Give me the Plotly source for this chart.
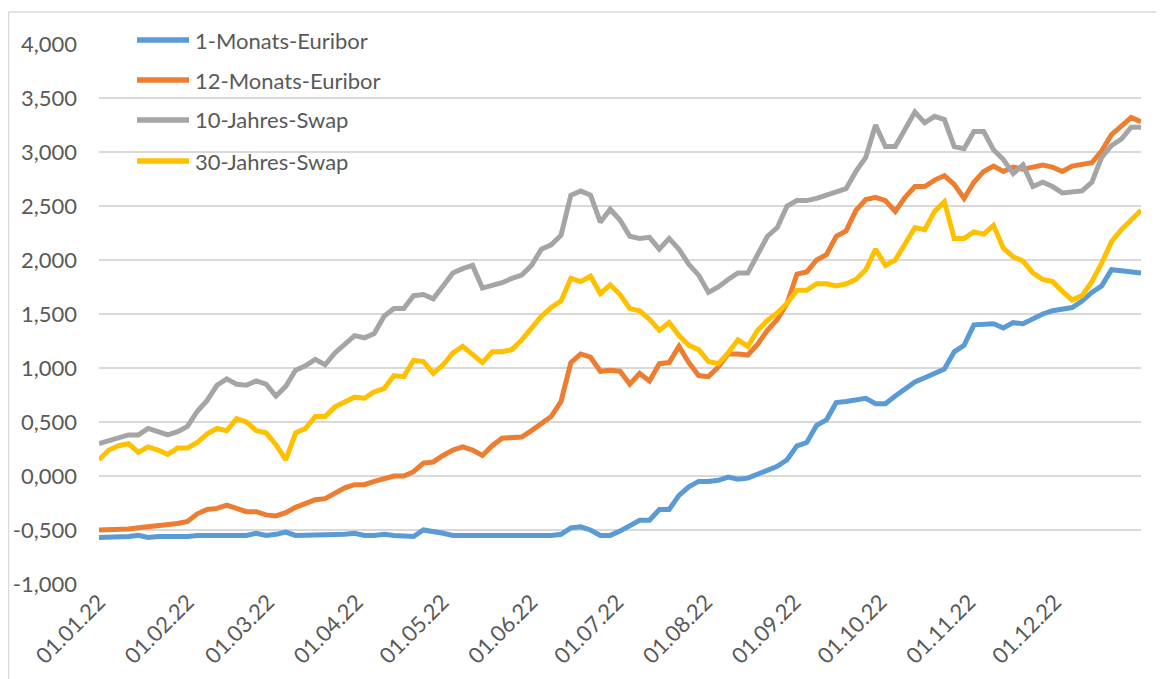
import pandas as pd
import plotly.graph_objects as go

# ---- data (percent), sampled evenly over 2022 ----
sample_dates = pd.date_range("2022-01-01", "2022-12-31", periods=107)

euribor_1m = [
    -0.57, -0.57, -0.56, -0.56, -0.55, -0.57, -0.56, -0.56, -0.57, -0.56,
    -0.55, -0.55, -0.55, -0.56, -0.55, -0.55, -0.53, -0.55, -0.54, -0.52,
    -0.55, -0.55, -0.54, -0.55, -0.55, -0.54, -0.53, -0.55, -0.55, -0.54,
    -0.55, -0.55, -0.56, -0.50, -0.51, -0.53, -0.55, -0.55, -0.56, -0.55,
    -0.55, -0.55, -0.55, -0.55, -0.55, -0.55, -0.55, -0.54, -0.48, -0.47,
    -0.50, -0.55, -0.55, -0.51, -0.46, -0.41, -0.41, -0.31, -0.31, -0.18,
    -0.10, -0.05, -0.05, -0.04, -0.01, -0.03, -0.02, 0.02, 0.06, 0.09,
    0.15, 0.28, 0.31, 0.47, 0.52, 0.68, 0.69, 0.71, 0.72, 0.67,
    0.67, 0.74, 0.80, 0.87, 0.91, 0.95, 0.99, 1.15, 1.21, 1.40,
    1.41, 1.41, 1.37, 1.42, 1.41, 1.46, 1.50, 1.53, 1.54, 1.56,
    1.62, 1.70, 1.76, 1.91, 1.90, 1.89, 1.88,
]

euribor_12m = [
    -0.50, -0.50, -0.49, -0.49, -0.48, -0.47, -0.46, -0.46, -0.44, -0.42,
    -0.35, -0.31, -0.30, -0.27, -0.30, -0.33, -0.33, -0.36, -0.37, -0.34,
    -0.29, -0.26, -0.22, -0.21, -0.16, -0.11, -0.08, -0.08, -0.05, -0.03,
    0.00, 0.00, 0.04, 0.12, 0.13, 0.19, 0.24, 0.27, 0.24, 0.19,
    0.28, 0.35, 0.36, 0.36, 0.42, 0.49, 0.55, 0.69, 1.05, 1.13,
    1.10, 0.97, 0.98, 0.97, 0.85, 0.95, 0.88, 1.04, 1.05, 1.20,
    1.05, 0.93, 0.92, 1.01, 1.13, 1.13, 1.12, 1.22, 1.35, 1.45,
    1.60, 1.87, 1.89, 2.00, 2.05, 2.22, 2.27, 2.46, 2.56, 2.58,
    2.55, 2.45, 2.58, 2.68, 2.68, 2.74, 2.78, 2.70, 2.57, 2.72,
    2.82, 2.87, 2.82, 2.86, 2.84, 2.86, 2.88, 2.86, 2.82, 2.87,
    2.88, 2.90, 3.01, 3.16, 3.24, 3.32, 3.28,
]

swap_10y = [
    0.30, 0.33, 0.36, 0.38, 0.38, 0.44, 0.41, 0.38, 0.41, 0.46,
    0.60, 0.70, 0.84, 0.90, 0.85, 0.84, 0.88, 0.85, 0.74, 0.83,
    0.98, 1.02, 1.08, 1.03, 1.14, 1.22, 1.30, 1.28, 1.32, 1.48,
    1.55, 1.55, 1.67, 1.68, 1.64, 1.76, 1.88, 1.92, 1.95, 1.74,
    1.76, 1.79, 1.83, 1.86, 1.95, 2.10, 2.14, 2.23, 2.60, 2.64,
    2.60, 2.35, 2.47, 2.37, 2.22, 2.20, 2.21, 2.10, 2.20, 2.10,
    1.96, 1.86, 1.70, 1.75, 1.82, 1.88, 1.88, 2.06, 2.22, 2.30,
    2.50, 2.55, 2.55, 2.57, 2.60, 2.64, 2.66, 2.82, 2.95, 3.25,
    3.05, 3.05, 3.22, 3.37, 3.27, 3.33, 3.30, 3.05, 3.03, 3.19,
    3.19, 3.02, 2.93, 2.80, 2.88, 2.68, 2.72, 2.68, 2.62, 2.63,
    2.64, 2.72, 2.95, 3.06, 3.12, 3.23, 3.23,
]

swap_30y = [
    0.15, 0.24, 0.28, 0.30, 0.22, 0.27, 0.24, 0.20, 0.26, 0.26,
    0.31, 0.39, 0.44, 0.42, 0.53, 0.50, 0.42, 0.40, 0.29, 0.15,
    0.40, 0.44, 0.55, 0.55, 0.64, 0.68, 0.73, 0.72, 0.78, 0.81,
    0.93, 0.92, 1.07, 1.06, 0.95, 1.03, 1.14, 1.20, 1.12, 1.05,
    1.15, 1.15, 1.17, 1.26, 1.37, 1.48, 1.56, 1.62, 1.83, 1.80,
    1.85, 1.69, 1.77, 1.68, 1.55, 1.53, 1.45, 1.35, 1.42, 1.30,
    1.21, 1.17, 1.06, 1.04, 1.14, 1.26, 1.20, 1.35, 1.44, 1.51,
    1.60, 1.72, 1.72, 1.78, 1.78, 1.76, 1.78, 1.82, 1.91, 2.10,
    1.95, 2.00, 2.15, 2.30, 2.28, 2.45, 2.54, 2.20, 2.20, 2.26,
    2.24, 2.32, 2.11, 2.03, 1.99, 1.88, 1.82, 1.80, 1.71, 1.63,
    1.67, 1.80, 1.97, 2.17, 2.28, 2.37, 2.46,
]

series_names = ["1-Monats-Euribor", "12-Monats-Euribor", "10-Jahres-Swap", "30-Jahres-Swap"]
series_values = [euribor_1m, euribor_12m, swap_10y, swap_30y]
series_colors = ["#5B9BD5", "#ED7D31", "#A5A5A5", "#FFC000"]

x_tick_dates = pd.date_range("2022-01-01", "2022-12-01", freq="MS")
x_tick_labels = ["01.01.22", "01.02.22", "01.03.22", "01.04.22", "01.05.22", "01.06.22",
                 "01.07.22", "01.08.22", "01.09.22", "01.10.22", "01.11.22", "01.12.22"]
y_tick_values = [-1.0, -0.5, 0.0, 0.5, 1.0, 1.5, 2.0, 2.5, 3.0, 3.5, 4.0]
y_tick_labels = ["-1,000", "-0,500", "0,000", "0,500", "1,000", "1,500",
                 "2,000", "2,500", "3,000", "3,500", "4,000"]

# ---- layout geometry (page pixels; the page body has an 8px margin) ----
PAGE_W, PAGE_H = 1164, 679
OFF = 8
PLOT_L, PLOT_R, PLOT_T, PLOT_B = 99, 1141, 44, 584
W, H = PAGE_W - OFF, PAGE_H - OFF
ML, MR, MT, MB = PLOT_L - OFF, PAGE_W - PLOT_R, PLOT_T - OFF, PAGE_H - PLOT_B
font_family = "Lato, 'Open Sans', sans-serif"
text_color = "#595959"
FS = 22

pw = PLOT_R - PLOT_L
ph = PLOT_B - PLOT_T
def px_x(px):
    return (px - PLOT_L) / pw
def px_y(py):
    return 1 - (py - PLOT_T) / ph

fig = go.Figure()
for name, vals, col in zip(series_names, series_values, series_colors):
    fig.add_trace(go.Scatter(
        x=sample_dates, y=vals, name=name, mode="lines",
        line=dict(color=col, width=5), showlegend=False,
    ))

# legend drawn as in the reference (long line keys on the left)
legend_rows_y = [40, 80, 120, 161]
shapes = []
annotations = []
for name, col, ly in zip(series_names, series_colors, legend_rows_y):
    shapes.append(dict(type="line", xref="paper", yref="paper",
                       x0=px_x(137), x1=px_x(189), y0=px_y(ly), y1=px_y(ly),
                       line=dict(color=col, width=5.5)))
    annotations.append(dict(xref="paper", yref="paper", x=px_x(193), y=px_y(ly),
                            text=name, showarrow=False, xanchor="left", yanchor="middle",
                            font=dict(family=font_family, size=FS, color=text_color)))

# chart frame (left and top edges visible in the crop)
shapes.append(dict(type="line", xref="paper", yref="paper",
                   x0=px_x(8.5), x1=px_x(8.5), y0=px_y(12), y1=px_y(PAGE_H),
                   line=dict(color="#D9D9D9", width=1.5), layer="below"))
shapes.append(dict(type="line", xref="paper", yref="paper",
                   x0=px_x(8.5), x1=px_x(PAGE_W), y0=px_y(12), y1=px_y(12),
                   line=dict(color="#D9D9D9", width=1.5), layer="below"))

fig.update_layout(
    width=W, height=H,
    margin=dict(l=ML, r=MR, t=MT, b=MB, pad=0),
    paper_bgcolor="white", plot_bgcolor="white",
    font=dict(family=font_family, size=FS, color=text_color),
    showlegend=False,
    xaxis=dict(
        type="date",
        range=["2022-01-01", "2022-12-31"],
        tickvals=x_tick_dates, ticktext=x_tick_labels,
        tickangle=-45, showgrid=False, zeroline=False,
        showline=False, ticks="", automargin=False,
        tickfont=dict(size=FS, color=text_color),
    ),
    yaxis=dict(
        range=[-1.0, 4.0],
        tickvals=y_tick_values, ticktext=y_tick_labels,
        showgrid=True, gridcolor="#D9D9D9", gridwidth=1.5,
        zeroline=False, showline=False, ticks="", automargin=False,
        ticklabelstandoff=21,
        tickfont=dict(size=FS, color=text_color),
    ),
    shapes=shapes,
    annotations=annotations,
)

fig.write_html("out.html", config={"displayModeBar": False})
